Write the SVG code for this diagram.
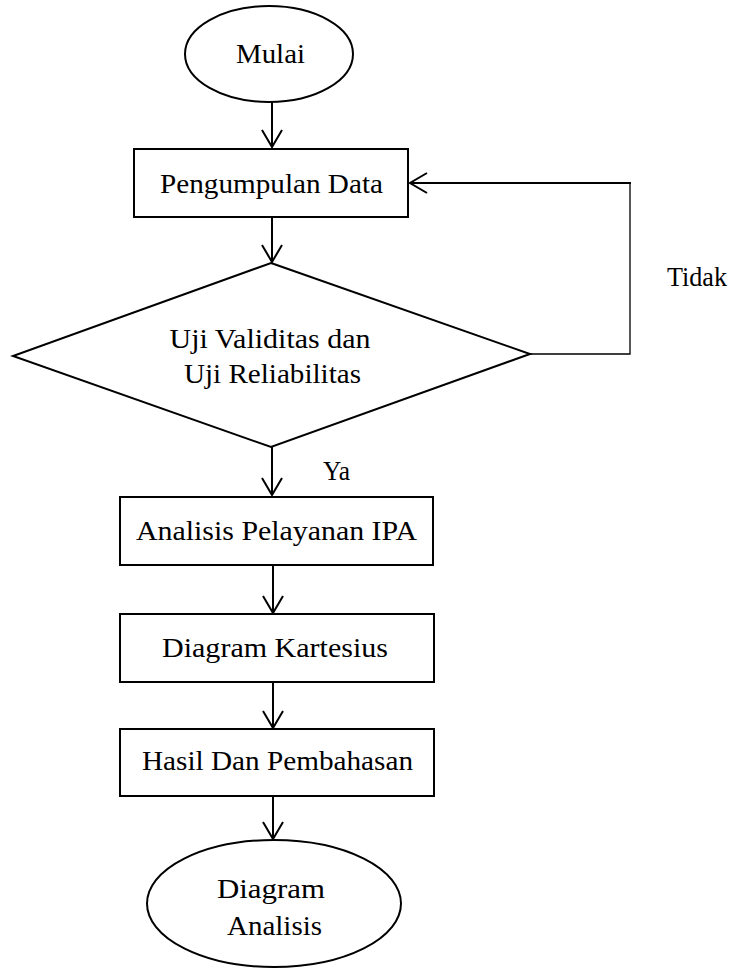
<svg xmlns="http://www.w3.org/2000/svg" width="731" height="968" viewBox="0 0 731 968">
<style>
.shape{fill:#fff;stroke:#000;stroke-width:2}
.con{fill:none;stroke:#000;stroke-width:2}
.thin{fill:none;stroke:#000;stroke-width:1.3}
text{font-family:"Liberation Serif","Times New Roman",serif;font-size:27px;fill:#000}
.c{text-anchor:middle}
</style>
<defs>
<marker id="arr" markerUnits="userSpaceOnUse" orient="auto" refX="0" refY="0" overflow="visible">
<path d="M-17,-10 L0,0 L-17,10" fill="none" stroke="#000" stroke-width="2"/>
</marker>
</defs>
<rect width="731" height="968" fill="#fff"/>
<g id="connectors">
<path class="con" d="M272,102 V147" marker-end="url(#arr)"/>
<path class="con" d="M272,217 V262" marker-end="url(#arr)"/>
<path class="con" d="M272,447 V495" marker-end="url(#arr)"/>
<path class="con" d="M273,565 V613" marker-end="url(#arr)"/>
<path class="con" d="M273,682 V728" marker-end="url(#arr)"/>
<path class="con" d="M273,796 V839" marker-end="url(#arr)"/>
<path class="thin" d="M530,354 H630 V183"/>
<path class="con" d="M631,183 H410" marker-end="url(#arr)"/>
<text x="667" y="286" textLength="60" lengthAdjust="spacingAndGlyphs">Tidak</text>
<text x="323" y="480" textLength="27" lengthAdjust="spacingAndGlyphs">Ya</text>
</g>
<g id="start">
<ellipse class="shape" cx="269" cy="54" rx="84" ry="48"/>
<text class="c" x="270.5" y="63" textLength="69" lengthAdjust="spacingAndGlyphs">Mulai</text>
</g>
<g id="pengumpulan">
<rect class="shape" x="134" y="149" width="274" height="68"/>
<text class="c" x="271.5" y="193" textLength="223" lengthAdjust="spacingAndGlyphs">Pengumpulan Data</text>
</g>
<g id="uji">
<polygon class="shape" points="271,263 530,354 271,447 13,356"/>
<text class="c" x="270" y="348" textLength="201" lengthAdjust="spacingAndGlyphs">Uji Validitas dan</text>
<text class="c" x="272.5" y="383" textLength="177" lengthAdjust="spacingAndGlyphs">Uji Reliabilitas</text>
</g>
<g id="analisis">
<rect class="shape" x="120" y="497" width="313" height="68"/>
<text class="c" x="276.5" y="540" textLength="281" lengthAdjust="spacingAndGlyphs">Analisis Pelayanan IPA</text>
</g>
<g id="kartesius">
<rect class="shape" x="120" y="614" width="314" height="68"/>
<text class="c" x="275" y="657" textLength="226" lengthAdjust="spacingAndGlyphs">Diagram Kartesius</text>
</g>
<g id="hasil">
<rect class="shape" x="120" y="729" width="314" height="67"/>
<text class="c" x="277.5" y="770" textLength="271" lengthAdjust="spacingAndGlyphs">Hasil Dan Pembahasan</text>
</g>
<g id="end">
<ellipse class="shape" cx="274" cy="903.5" rx="127" ry="63.5"/>
<text class="c" x="271" y="898" textLength="108" lengthAdjust="spacingAndGlyphs">Diagram</text>
<text class="c" x="274.5" y="935" textLength="95" lengthAdjust="spacingAndGlyphs">Analisis</text>
</g>
</svg>
